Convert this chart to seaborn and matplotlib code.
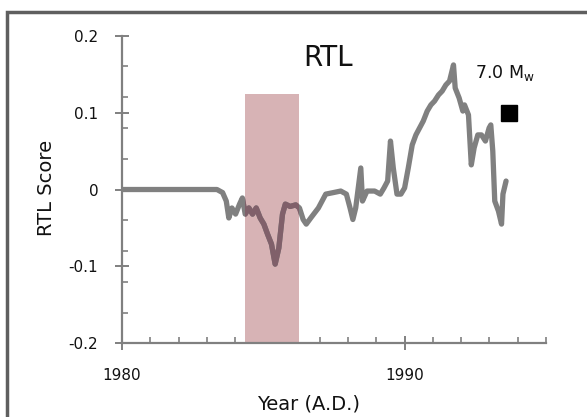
import numpy as np
import pandas as pd
import matplotlib
matplotlib.use("Agg")
import matplotlib.pyplot as plt
from matplotlib.patches import Rectangle
from matplotlib.ticker import MultipleLocator, FixedLocator
import seaborn as sns

# ---- data ----
years = [1980.0, 1983.36, 1983.56, 1983.69, 1983.78, 1983.89, 1984.02, 1984.16, 1984.26,
         1984.36, 1984.49, 1984.62, 1984.75, 1984.89, 1985.02, 1985.15, 1985.29, 1985.42,
         1985.55, 1985.68, 1985.78, 1985.95, 1986.15, 1986.28, 1986.41, 1986.52, 1986.68,
         1986.95, 1987.21, 1987.48, 1987.74, 1987.94, 1988.07, 1988.17, 1988.27, 1988.45,
         1988.51, 1988.67, 1988.94, 1989.14, 1989.27, 1989.40, 1989.50, 1989.60, 1989.73,
         1989.87, 1990.00, 1990.13, 1990.27, 1990.40, 1990.53, 1990.66, 1990.80, 1990.93,
         1991.06, 1991.20, 1991.33, 1991.46, 1991.59, 1991.73, 1991.79, 1991.93, 1992.06,
         1992.12, 1992.26, 1992.36, 1992.46, 1992.59, 1992.72, 1992.86, 1992.99, 1993.05,
         1993.12, 1993.19, 1993.32, 1993.43, 1993.48, 1993.59]
rtl = [0.0, 0.0, -0.004, -0.015, -0.037, -0.024, -0.032, -0.019, -0.011,
       -0.032, -0.024, -0.032, -0.024, -0.037, -0.045, -0.058, -0.071, -0.097,
       -0.076, -0.032, -0.019, -0.022, -0.020, -0.024, -0.039, -0.045, -0.037,
       -0.024, -0.006, -0.004, -0.002, -0.006, -0.024, -0.039, -0.024, 0.028,
       -0.015, -0.002, -0.002, -0.006, 0.002, 0.011, 0.063, 0.028, -0.006,
       -0.006, 0.002, 0.028, 0.058, 0.071, 0.080, 0.089, 0.102, 0.110,
       0.115, 0.123, 0.128, 0.136, 0.141, 0.162, 0.132, 0.119, 0.102,
       0.110, 0.097, 0.032, 0.054, 0.071, 0.071, 0.063, 0.080, 0.084,
       0.050, -0.015, -0.028, -0.045, -0.006, 0.011]

shade_start, shade_end, shade_top = 1984.36, 1986.28, 0.124
quake_year, quake_value = [1993.69], [0.10]
quake_label = "7.0 M$_\\mathregular{w}$"
xticks = [1980, 1990]
xticklabels = ["1980", "1990"]
yticks = [-0.2, -0.1, 0.0, 0.1, 0.2]
yticklabels = ["-0.2", "-0.1", "0", "0.1", "0.2"]

df = pd.DataFrame({"Year": years, "RTL": rtl})

sns.set_style("white")
plt.rcParams["font.family"] = ["DejaVu Sans"]

fig = plt.figure(figsize=(5.87, 4.17), dpi=100)
ax = fig.add_axes([0.2078, 0.1767, 0.7222, 0.7377])

# outer frame
fig.patches.append(Rectangle((7 / 587, -0.05), 1.1, 1 - 12 / 417 + 0.05,
                             transform=fig.transFigure, fill=False,
                             edgecolor="#5f5f5f", linewidth=2.5))

ymin = -0.2
rect = Rectangle((shade_start, ymin), shade_end - shade_start, shade_top - ymin,
                 facecolor="#d7b3b5", edgecolor="none", zorder=1)
ax.add_patch(rect)

sns.lineplot(data=df, x="Year", y="RTL", ax=ax, color="#808080", linewidth=3.8,
             zorder=2, estimator=None, sort=False)
sns.lineplot(data=df, x="Year", y="RTL", ax=ax, color="#80606a", linewidth=3.8,
             zorder=3, estimator=None, sort=False)
ax.lines[-1].set_clip_path(rect)

ax.plot(quake_year, quake_value, marker="s", markersize=12, color="black",
        linestyle="none", zorder=4)

ax.text(1987.3, 0.171, "RTL", fontsize=20, ha="center", va="center", color="#111111")
ax.text(1992.5, 0.152, quake_label, fontsize=12.5, ha="left", va="center", color="#111111")

ax.set_xlim(1980, 1995)
ax.set_ylim(-0.2, 0.2)

ax.xaxis.set_major_locator(FixedLocator(xticks))
ax.set_xticklabels(xticklabels)
ax.yaxis.set_major_locator(FixedLocator(yticks))
ax.set_yticklabels(yticklabels)
ax.xaxis.set_minor_locator(MultipleLocator(1))
ax.yaxis.set_minor_locator(MultipleLocator(0.04))

for s in ["top", "right"]:
    ax.spines[s].set_visible(False)
for s in ["left", "bottom"]:
    ax.spines[s].set_color("#808080")
    ax.spines[s].set_linewidth(1.6)

ax.tick_params(which="major", direction="inout", length=10, width=1.4,
               color="#808080", labelsize=11, labelcolor="#111111", pad=12)
ax.tick_params(which="minor", direction="in", length=4, width=1.2, color="#808080")
ax.tick_params(axis="x", which="major", pad=13)
ax.tick_params(left=True, bottom=True, which="both")

ax.set_xlabel("Year (A.D.)", fontsize=14, color="#111111")
ax.set_ylabel("RTL Score", fontsize=14, color="#111111")
ax.xaxis.set_label_coords(0.441, -0.168)
ax.yaxis.set_label_coords(-0.155, 0.505)

ax.set_facecolor("white")
fig.savefig("out.png", dpi=100)
